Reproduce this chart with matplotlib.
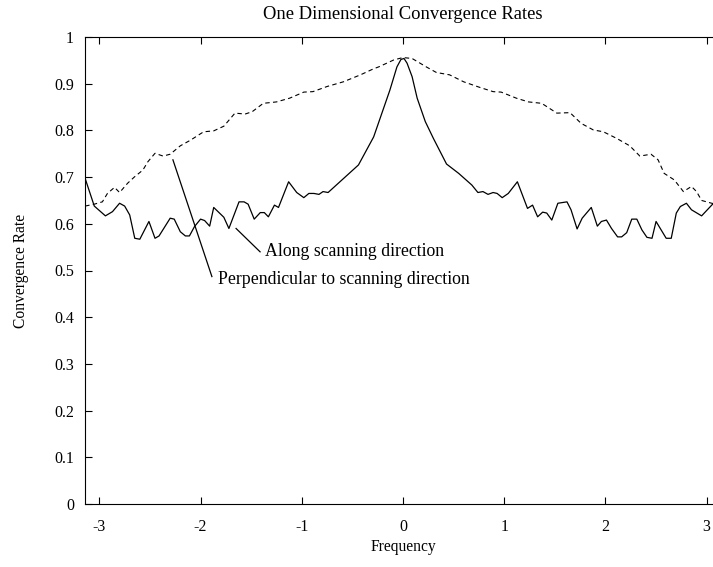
import matplotlib.pyplot as plt
import numpy as np

plt.rcParams["font.family"] = ["Liberation Serif", "DejaVu Serif"]
plt.rcParams["font.size"] = 11.5

# Along scanning direction (solid)
along_x = [-3.14, -3.05, -2.94, -2.87, -2.80, -2.75, -2.70, -2.65, -2.60, -2.51,
           -2.45, -2.41, -2.30, -2.26, -2.20, -2.15, -2.11, -2.06, -2.00, -1.96,
           -1.91, -1.87, -1.77, -1.72, -1.62, -1.57, -1.53, -1.47, -1.41, -1.37,
           -1.33, -1.27, -1.23, -1.13, -1.05, -0.98, -0.93, -0.88, -0.83, -0.79,
           -0.74, -0.44, -0.29, -0.21, -0.13, -0.06, -0.02, 0.01, 0.04, 0.09,
           0.14, 0.22, 0.30, 0.43, 0.55, 0.68, 0.74, 0.79, 0.84, 0.89,
           0.93, 0.98, 1.04, 1.13, 1.23, 1.28, 1.33, 1.38, 1.42, 1.47,
           1.53, 1.62, 1.66, 1.72, 1.77, 1.86, 1.92, 1.96, 2.01, 2.06,
           2.12, 2.16, 2.21, 2.26, 2.31, 2.36, 2.41, 2.46, 2.50, 2.55,
           2.60, 2.65, 2.70, 2.74, 2.80, 2.85, 2.95, 3.05, 3.14]
along_y = [0.697, 0.638, 0.617, 0.626, 0.644, 0.638, 0.619, 0.569, 0.567, 0.605,
           0.569, 0.574, 0.612, 0.610, 0.583, 0.574, 0.574, 0.594, 0.610, 0.607,
           0.595, 0.635, 0.614, 0.590, 0.647, 0.647, 0.642, 0.610, 0.624, 0.624,
           0.615, 0.640, 0.635, 0.690, 0.667, 0.656, 0.665, 0.665, 0.663, 0.669,
           0.667, 0.726, 0.786, 0.836, 0.886, 0.936, 0.952, 0.954, 0.944, 0.915,
           0.869, 0.819, 0.783, 0.728, 0.708, 0.683, 0.667, 0.669, 0.663, 0.667,
           0.665, 0.656, 0.665, 0.690, 0.633, 0.640, 0.615, 0.625, 0.623, 0.608,
           0.644, 0.647, 0.630, 0.589, 0.612, 0.635, 0.595, 0.605, 0.608, 0.590,
           0.572, 0.572, 0.581, 0.610, 0.610, 0.587, 0.571, 0.569, 0.605, 0.587,
           0.569, 0.569, 0.623, 0.637, 0.644, 0.630, 0.617, 0.640, 0.660]

# Perpendicular to scanning direction (dashed)
perp_x = [-3.14, -3.05, -2.97, -2.92, -2.85, -2.80, -2.72, -2.65, -2.57, -2.52,
          -2.45, -2.37, -2.30, -2.20, -2.10, -1.97, -1.87, -1.77, -1.66, -1.56,
          -1.49, -1.38, -1.25, -1.12, -0.98, -0.89, -0.75, -0.59, -0.42, -0.29,
          -0.24, -0.09, 0.0, 0.09, 0.23, 0.33, 0.46, 0.60, 0.76, 0.89,
          0.97, 1.12, 1.24, 1.37, 1.52, 1.65, 1.76, 1.88, 1.98, 2.11,
          2.24, 2.34, 2.45, 2.52, 2.58, 2.68, 2.77, 2.85, 2.90, 2.95,
          3.05, 3.14]
perp_y = [0.638, 0.642, 0.647, 0.665, 0.678, 0.667, 0.687, 0.701, 0.715, 0.733,
          0.751, 0.745, 0.749, 0.767, 0.779, 0.797, 0.799, 0.809, 0.837, 0.835,
          0.840, 0.858, 0.861, 0.869, 0.882, 0.883, 0.894, 0.904, 0.919, 0.932,
          0.936, 0.951, 0.956, 0.954, 0.936, 0.924, 0.919, 0.904, 0.892, 0.883,
          0.882, 0.869, 0.861, 0.858, 0.837, 0.838, 0.815, 0.801, 0.797, 0.783,
          0.767, 0.745, 0.749, 0.737, 0.708, 0.694, 0.669, 0.680, 0.669, 0.650,
          0.644, 0.640]

fig = plt.figure(figsize=(7.13, 5.67), dpi=100)
ax = fig.add_axes([85 / 713, 63 / 567, 636 / 713, 467 / 567])

ax.plot(along_x, along_y, color="black", linewidth=0.9)
ax.plot(perp_x, perp_y, color="black", linewidth=0.8, linestyle=(0, (4, 3)))

ax.set_xlim(-np.pi, np.pi)
ax.set_ylim(0, 1)
ax.set_xticks(np.arange(-3, 4))
ax.set_xticklabels([str(v) for v in range(-3, 4)])
yt = np.round(np.arange(0, 1.01, 0.1), 1)
ax.set_yticks(yt)
ax.set_yticklabels(["0"] + [f"{v:g}" for v in yt[1:-1]] + ["1"])
ax.tick_params(direction="in", top=True, right=True, length=5, width=0.8)
ax.tick_params(axis="x", pad=11)
ax.tick_params(axis="y", pad=8)
for sp in ax.spines.values():
    sp.set_linewidth(0.8)

ax.set_title("One Dimensional Convergence Rates", fontsize=13.4, pad=13)
ax.set_xlabel("Frequency", fontsize=11.2, labelpad=3)
ax.set_ylabel("Convergence Rate", fontsize=11.2, labelpad=18)

# annotations
ax.plot([-1.649, -1.412], [0.590, 0.540], color="black", linewidth=0.9)
ax.text(-1.362, 0.540, "Along scanning direction", va="center", ha="left",
        fontsize=12.8)
ax.plot([-2.273, -1.888], [0.737, 0.487], color="black", linewidth=0.9)
ax.text(-1.826, 0.480, "Perpendicular to scanning direction", va="center",
        ha="left", fontsize=12.8)

fig.savefig("out.png", dpi=100)
